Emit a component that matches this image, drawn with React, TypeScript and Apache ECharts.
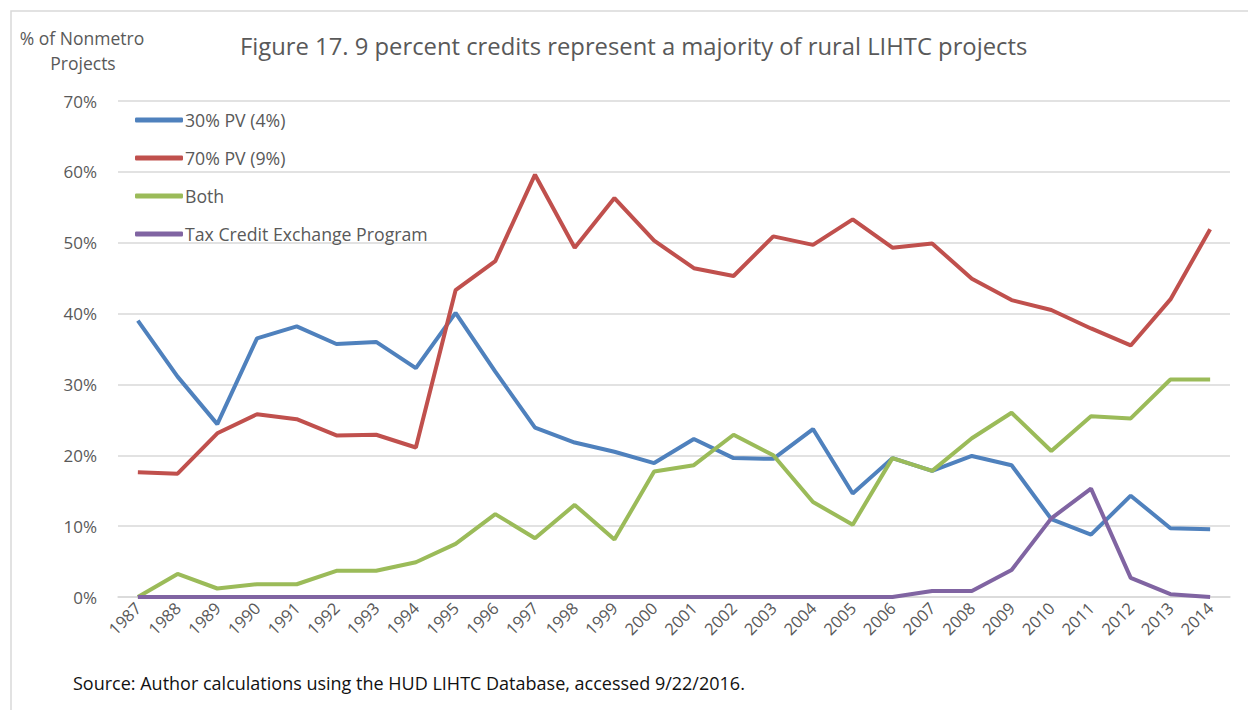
import React, { useEffect, useRef } from "react";
import * as echarts from "echarts";

const years = [
  "1987", "1988", "1989", "1990", "1991", "1992", "1993", "1994", "1995", "1996",
  "1997", "1998", "1999", "2000", "2001", "2002", "2003", "2004", "2005", "2006",
  "2007", "2008", "2009", "2010", "2011", "2012", "2013", "2014",
];

const pv30 = [
  39.0, 31.1, 24.4, 36.5, 38.2, 35.7, 36.0, 32.3, 40.1, 31.8,
  23.9, 21.8, 20.5, 18.9, 22.3, 19.6, 19.5, 23.7, 14.6, 19.6,
  17.8, 19.9, 18.6, 11.0, 8.8, 14.3, 9.7, 9.55,
];

const pv70 = [
  17.6, 17.4, 23.1, 25.8, 25.1, 22.8, 22.9, 21.1, 43.3, 47.4,
  59.6, 49.3, 56.3, 50.3, 46.4, 45.3, 50.9, 49.7, 53.3, 49.3,
  49.9, 44.9, 41.9, 40.5, 37.9, 35.5, 42.0, 51.9,
];

const both = [
  0, 3.25, 1.2, 1.8, 1.8, 3.7, 3.7, 4.9, 7.5, 11.7,
  8.3, 13.0, 8.1, 17.7, 18.6, 22.9, 20.0, 13.4, 10.2, 19.6,
  17.8, 22.4, 26.0, 20.6, 25.5, 25.2, 30.7, 30.7,
];

const tcep = [
  0, 0, 0, 0, 0, 0, 0, 0, 0, 0,
  0, 0, 0, 0, 0, 0, 0, 0, 0, 0,
  0.85, 0.85, 3.8, 11.1, 15.3, 2.7, 0.4, 0,
];

const seriesNames = ["30% PV (4%)", "70% PV (9%)", "Both", "Tax Credit Exchange Program"];
const seriesColors = ["#4F81BD", "#C0504D", "#9BBB59", "#8064A2"];
const seriesData = [pv30, pv70, both, tcep];

const FONT = "'Open Sans', 'Noto Sans', sans-serif";
const GRAY = "#595959";

export default function App() {
  const ref = useRef<HTMLDivElement>(null);

  useEffect(() => {
    document.body.style.margin = "0";
    if (!ref.current) return;
    const chart = echarts.init(ref.current, undefined, { renderer: "svg" });
    chart.setOption({
      animation: false,
      backgroundColor: "#ffffff",
      textStyle: { fontFamily: FONT },
      title: {
        text: "Figure 17. 9 percent credits represent a majority of rural LIHTC projects",
        left: 235,
        top: 29,
        textStyle: { fontFamily: FONT, fontSize: 23.8, fontWeight: "normal", color: GRAY },
      },
      legend: {
        orient: "vertical",
        left: 135,
        top: 109,
        padding: 0,
        itemWidth: 48,
        itemHeight: 5,
        itemGap: 16,
        icon: "roundRect",
        textStyle: { fontFamily: FONT, fontSize: 17.7, color: GRAY, padding: [0, 0, 0, -3], lineHeight: 22 },
        data: seriesNames,
      },
      grid: { left: 118, right: 18, top: 101, bottom: 113, containLabel: false },
      xAxis: {
        type: "category",
        data: years,
        boundaryGap: true,
        axisLine: { show: true, lineStyle: { color: "#d9d9d9", width: 1.5 } },
        axisTick: { show: false },
        axisLabel: {
          rotate: 45,
          interval: 0,
          fontFamily: FONT,
          fontSize: 16.5,
          color: GRAY,
          margin: 8,
        },
      },
      yAxis: {
        type: "value",
        min: 0,
        max: 70,
        interval: 10,
        axisLine: { show: false },
        axisTick: { show: false },
        splitLine: { lineStyle: { color: "#d9d9d9", width: 1.5 } },
        axisLabel: {
          formatter: "{value}%",
          fontFamily: FONT,
          fontSize: 17,
          color: GRAY,
          margin: 21,
        },
      },
      series: seriesNames.map((name, i) => ({
        name,
        type: "line",
        data: seriesData[i],
        showSymbol: false,
        symbol: "none",
        lineStyle: { color: seriesColors[i], width: 4 },
        itemStyle: { color: seriesColors[i] },
        z: 2 + i,
      })),
      graphic: [
        {
          type: "rect",
          shape: { x: 11, y: 11, width: 1400, height: 900 },
          style: { fill: "none", stroke: "#d9d9d9", lineWidth: 1.5 },
          silent: true,
        },
        {
          type: "text",
          x: 82,
          y: 38,
          style: {
            text: "% of Nonmetro",
            fontFamily: FONT,
            fontSize: 17.5,
            fill: GRAY,
            align: "center",
            verticalAlign: "middle",
          },
        },
        {
          type: "text",
          x: 83,
          y: 63,
          style: {
            text: "Projects",
            fontFamily: FONT,
            fontSize: 17.5,
            fill: GRAY,
            align: "center",
            verticalAlign: "middle",
          },
        },
        {
          type: "text",
          x: 73,
          y: 683,
          style: {
            text: "Source: Author calculations using the HUD LIHTC Database, accessed 9/22/2016.",
            fontFamily: FONT,
            fontSize: 18,
            fill: "#111111",
            align: "left",
            verticalAlign: "middle",
          },
        },
      ],
    });
    return () => chart.dispose();
  }, []);

  return (
    <div
      ref={ref}
      style={{ position: "fixed", left: 0, top: 0, width: 1248, height: 710 }}
    />
  );
}
